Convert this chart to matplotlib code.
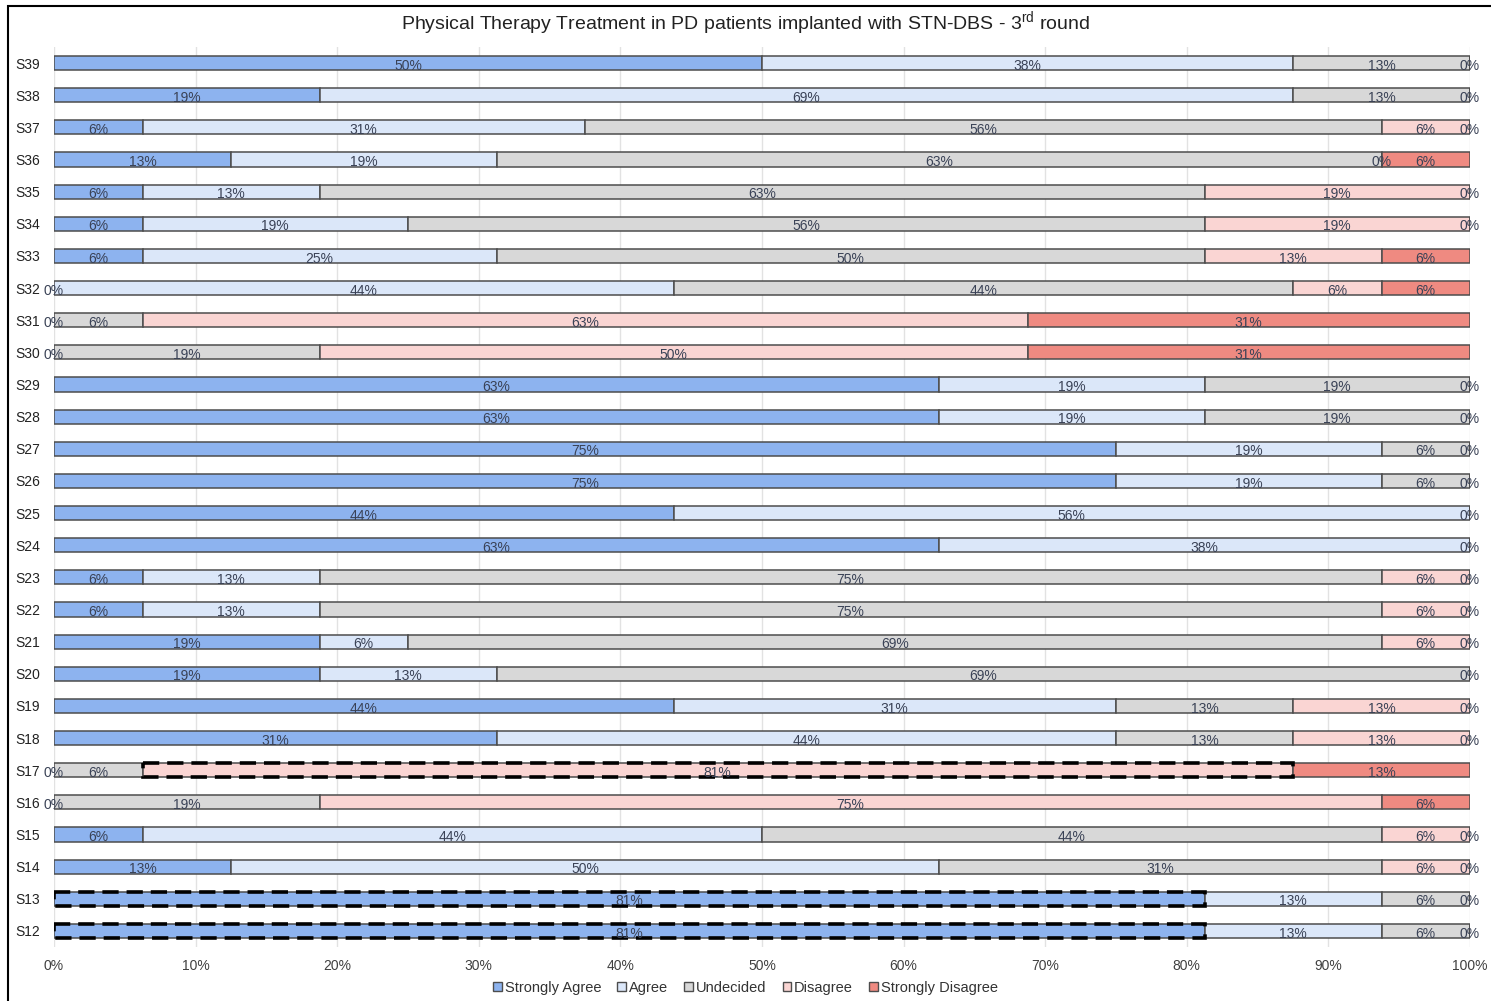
import matplotlib
matplotlib.use("Agg")
import matplotlib.pyplot as plt
from matplotlib.patches import Patch, Rectangle
import numpy as np

plt.rcParams["font.family"] = ["Liberation Sans", "DejaVu Sans"]

# Statements S39 .. S12 (top to bottom) and responses of the 16 participants
statements = ["S39", "S38", "S37", "S36", "S35", "S34", "S33", "S32", "S31", "S30",
              "S29", "S28", "S27", "S26", "S25", "S24", "S23", "S22", "S21", "S20",
              "S19", "S18", "S17", "S16", "S15", "S14", "S13", "S12"]
categories = ["Strongly Agree", "Agree", "Undecided", "Disagree", "Strongly Disagree"]
n_respondents = 16

strongly_agree =    [8, 3, 1, 2, 1, 1, 1, 0, 0, 0, 10, 10, 12, 12, 7, 10, 1, 1, 3, 3, 7, 5, 0, 0, 1, 2, 13, 13]
agree =             [6, 11, 5, 3, 2, 3, 4, 7, 0, 0, 3, 3, 3, 3, 9, 6, 2, 2, 1, 2, 5, 7, 0, 0, 7, 8, 2, 2]
undecided =         [2, 2, 9, 10, 10, 9, 8, 7, 1, 3, 3, 3, 1, 1, 0, 0, 12, 12, 11, 11, 2, 2, 1, 3, 7, 5, 1, 1]
disagree =          [0, 0, 1, 0, 3, 3, 2, 1, 10, 8, 0, 0, 0, 0, 0, 0, 1, 1, 1, 0, 2, 2, 13, 12, 1, 1, 0, 0]
strongly_disagree = [0, 0, 0, 1, 0, 0, 1, 1, 5, 5, 0, 0, 0, 0, 0, 0, 0, 0, 0, 0, 0, 0, 2, 1, 0, 0, 0, 0]

# Segments outlined with a dashed border
highlighted = [("S17", "Disagree"), ("S13", "Strongly Agree"), ("S12", "Strongly Agree")]

colors = ["#8db3ef", "#dbe7f9", "#d8d8d8", "#fad5d3", "#ef8a81"]
edge = "#4d4d4d"
text_col = "#3a4256"

W, H = 1491, 1001
fig = plt.figure(figsize=(W / 100, H / 100), dpi=100)
ax = fig.add_axes([54 / W, 1 - 947 / H, (1470 - 54) / W, (947 - 47) / H])

series = [strongly_agree, agree, undecided, disagree, strongly_disagree]
y = np.arange(len(statements))
left = np.zeros(len(statements))
bar_h = 0.44
placed = set()

for ci, (cat, counts, col) in enumerate(zip(categories, series, colors)):
    pct = np.array(counts) / n_respondents * 100
    ax.barh(y, pct, left=left, height=bar_h, color=col, edgecolor=edge,
            linewidth=1.1, zorder=3)
    for i, p in enumerate(pct):
        if (statements[i], cat) in highlighted:
            ax.barh(y[i], p, left=left[i], height=bar_h, facecolor="none",
                    edgecolor="black", linewidth=2.6, linestyle=(0, (4.5, 2.2)),
                    zorder=4)
        xc = left[i] + p / 2
        label = f"{int(p + 0.5)}%"
        key = (i, round(xc, 3), label)
        if key in placed:
            continue
        placed.add(key)
        ax.text(xc, y[i] + 0.08, label,
                ha="center", va="center", fontsize=10, color=text_col, zorder=5)
    left += pct

ax.set_xlim(0, 100)
ax.set_ylim(len(statements) - 0.5, -0.5)
ax.set_xticks(np.arange(0, 101, 10))
ax.set_xticklabels([f"{v}%" for v in range(0, 101, 10)], fontsize=10, color="#404040")
ax.set_yticks(y)
ax.set_yticklabels(statements, fontsize=10, color="#222222")
for lab in ax.get_yticklabels():
    lab.set_ha("left")
ax.tick_params(axis="y", length=0, pad=28)
ax.tick_params(axis="x", length=0, pad=9)
ax.grid(axis="x", color="#e2e2e2", linewidth=1, zorder=0)
for s in ax.spines.values():
    s.set_visible(False)

fig.text(0.5, 1 - 24 / H,
         "Physical Therapy Treatment in PD patients implanted with STN-DBS - 3$^{\\mathregular{rd}}$ round",
         ha="center", va="center", fontsize=14, color="#222222")

handles = [Patch(facecolor=c, edgecolor=edge, linewidth=1.0) for c in colors]
fig.legend(handles, categories, loc="center", bbox_to_anchor=(0.5, 1 - 988 / H),
           ncol=5, frameon=False, fontsize=10.5, handlelength=0.6, handleheight=0.6,
           handletextpad=0.2, columnspacing=1.1, labelcolor="#333333")

fig.patches.append(Rectangle((8 / W, -0.01), 1.1, (H - 6) / H + 0.01,
                             transform=fig.transFigure, fill=False,
                             edgecolor="black", linewidth=1.5))

fig.savefig("out.png", dpi=100, facecolor="white")
